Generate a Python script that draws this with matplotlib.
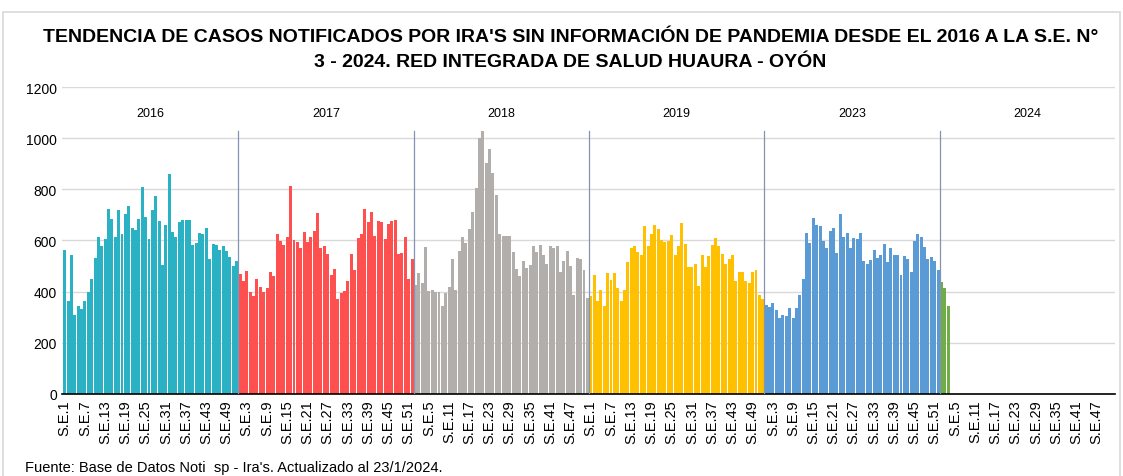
import matplotlib
matplotlib.use("Agg")
import matplotlib.pyplot as plt
from matplotlib.patches import Rectangle
import numpy as np

years = ["2016", "2017", "2018", "2019", "2023", "2024"]
colors = ["#2BB1C4", "#FF5050", "#B1AEAC", "#FFC000", "#5B9BD5", "#70AD47"]

v2016 = [562, 365, 544, 307, 342, 331, 362, 400, 448, 532, 612, 578, 604, 722, 685, 612,
         718, 627, 703, 735, 647, 641, 685, 810, 690, 604, 720, 775, 678, 506, 661, 860,
         633, 612, 671, 680, 680, 681, 584, 592, 629, 624, 648, 529, 587, 583, 562, 578,
         559, 537, 502, 520]
v2017 = [468, 440, 481, 397, 384, 450, 420, 400, 413, 476, 461, 625, 597, 583, 612, 813,
         601, 593, 569, 633, 595, 614, 639, 708, 571, 580, 549, 467, 488, 373, 395, 404,
         441, 546, 484, 609, 624, 724, 671, 712, 617, 677, 671, 605, 664, 677, 681, 549,
         552, 614, 448, 527]
v2018 = [427, 471, 435, 576, 401, 408, 400, 400, 345, 393, 418, 527, 405, 557, 614, 590,
         646, 711, 804, 1001, 1029, 901, 957, 864, 776, 625, 618, 617, 618, 556, 490, 463,
         518, 492, 506, 579, 556, 583, 544, 510, 579, 570, 580, 475, 519, 559, 499, 387,
         531, 529, 484, 376]
v2019 = [382, 467, 362, 407, 342, 471, 446, 471, 413, 362, 408, 516, 570, 580, 556, 542,
         655, 579, 627, 659, 643, 601, 596, 599, 620, 544, 579, 667, 586, 498, 497, 510,
         422, 545, 497, 541, 583, 608, 579, 549, 507, 529, 544, 443, 478, 475, 441, 435,
         478, 484, 386, 370]
v2023 = [346, 340, 354, 329, 295, 308, 306, 337, 297, 336, 386, 450, 629, 591, 688, 659,
         656, 597, 571, 639, 650, 550, 705, 612, 629, 570, 608, 604, 629, 518, 508, 525,
         563, 531, 545, 586, 514, 570, 545, 545, 467, 539, 527, 478, 599, 625, 612, 574,
         528, 536, 518, 485]
v2024 = [439, 413, 345]

series = [v2016, v2017, v2018, v2019, v2023, v2024]
weeks_per_year = 52

fig = plt.figure(figsize=(11.23, 4.77), dpi=100)
fig.patches.append(Rectangle((3 / 1123, -0.05), 1 - 6 / 1123, 1 - 13 / 477 + 0.05,
                             transform=fig.transFigure, fill=False,
                             edgecolor="#D9D9D9", linewidth=1.2))
ax = fig.add_axes([0.0555, 0.172, 0.9375, 0.6435])

sans = ["Liberation Sans", "DejaVu Sans"]

labels = []
for yi, (yr, vals, col) in enumerate(zip(years, series, colors)):
    start = yi * weeks_per_year
    x = np.arange(start, start + len(vals))
    ax.bar(x, vals, width=0.88, color=col, linewidth=0, zorder=2)
    labels += ["S.E.%d" % (w + 1) for w in range(weeks_per_year)]
    ax.text(start + weeks_per_year / 2 - 0.5, 1100, yr, ha="center", va="center",
            fontsize=9, family=sans)
    if yi > 0:
        ax.plot([start - 0.5, start - 0.5], [0, 1028], color="#8393B3", linewidth=0.9,
                zorder=3)

n = weeks_per_year * len(years)
ax.set_xlim(-0.7, n - 0.5)
ax.set_ylim(0, 1200)
ax.set_yticks(range(0, 1201, 200))
ax.yaxis.grid(True, color="#D9D9D9", linewidth=1.0, zorder=0)
ax.set_axisbelow(True)
ticks = list(range(0, n, 6))
ax.set_xticks(ticks)
ax.set_xticklabels([labels[i] for i in ticks], rotation=90, fontsize=10.5, family=sans)
for lab in ax.get_yticklabels():
    lab.set_family(sans)
    lab.set_fontsize(10)
ax.tick_params(axis="both", length=0, pad=4)
for s in ["top", "right", "left"]:
    ax.spines[s].set_visible(False)
ax.spines["bottom"].set_color("#000000")
ax.spines["bottom"].set_linewidth(1.2)

title_font = ["Liberation Sans Narrow", "Liberation Sans", "DejaVu Sans"]
fig.text(0.508, 0.922, "TENDENCIA DE CASOS NOTIFICADOS POR IRA'S SIN INFORMACIÓN DE PANDEMIA DESDE EL 2016 A LA S.E. N°",
         ha="center", va="center", fontsize=14, fontweight="bold", family=title_font)
fig.text(0.508, 0.870, "3 - 2024. RED INTEGRADA DE SALUD HUAURA - OYÓN",
         ha="center", va="center", fontsize=14, fontweight="bold", family=title_font)
fig.text(0.022, 0.018, "Fuente: Base de Datos Noti  sp - Ira's. Actualizado al 23/1/2024.",
         ha="left", va="center", fontsize=10.5, family=title_font)

fig.savefig("out.png", dpi=100)
